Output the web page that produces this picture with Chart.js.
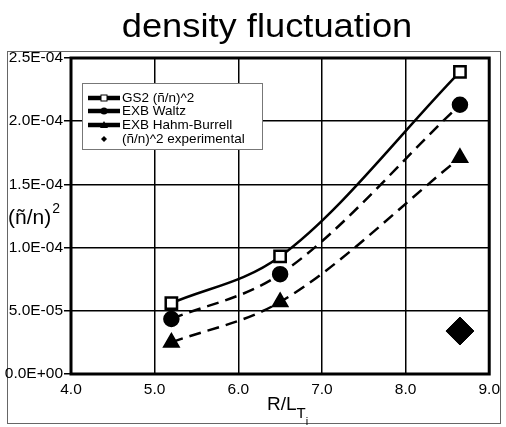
<!DOCTYPE html>
<html>
<head>
<meta charset="utf-8">
<script src="https://cdn.jsdelivr.net/npm/chart.js@4.4.0/dist/chart.umd.min.js"></script>
<style>
    body { margin: 0; background: #fff; }
    #densityChart { display: block; }
</style>
</head>
<body>
<canvas id="densityChart" width="506" height="427"></canvas>
<script>
// Density fluctuation chart data
var rltValues = [5.2, 6.5, 8.65];
var gs2Values = [5.6e-5, 9.3e-5, 2.39e-4];
var waltzValues = [4.35e-5, 7.9e-5, 2.13e-4];
var hahmValues = [2.5e-5, 5.7e-5, 1.71e-4];
var expX = [8.65];
var expValues = [3.4e-5];
var xTicks = [4, 5, 6, 7, 8, 9];
var yTicks = [0, 5e-5, 1e-4, 1.5e-4, 2e-4, 2.5e-4];

var FONT = '"Liberation Sans", Arial, sans-serif';

function toPoints(xs, ys) {
    return xs.map(function(x, i) { return { x: x, y: ys[i] }; });
}

// 2.5E-04 style labels
function sciLabel(v) {
    if (Math.abs(v) < 1e-12) return '0.0E+00';
    var exp = Math.floor(Math.log10(Math.abs(v)) + 1e-9);
    var mant = v / Math.pow(10, exp);
    var sign = exp < 0 ? '-' : '+';
    var e = Math.abs(exp);
    return mant.toFixed(1) + 'E' + sign + (e < 10 ? '0' + e : e);
}

// Frame, title, axis titles and legend box
var decorPlugin = {
    id: 'decor',
    beforeDraw: function(chart) {
        var ctx = chart.ctx;
        ctx.save();
        ctx.fillStyle = '#fff';
        ctx.fillRect(0, 0, chart.width, chart.height);
        ctx.strokeStyle = '#666';
        ctx.lineWidth = 1;
        ctx.strokeRect(7.5, 51.5, 493, 372);
        ctx.restore();
    },
    afterDraw: function(chart) {
        var ctx = chart.ctx;
        var area = chart.chartArea;
        ctx.save();

        // plot border
        ctx.strokeStyle = '#000';
        ctx.lineWidth = 3;
        ctx.strokeRect(area.left, area.top, area.right - area.left, area.bottom - area.top);

        // title (slightly wide, like the scan)
        ctx.fillStyle = '#000';
        ctx.textAlign = 'center';
        ctx.textBaseline = 'alphabetic';
        ctx.font = '33px ' + FONT;
        ctx.save();
        ctx.translate(267, 37);
        ctx.scale(1.1, 1);
        ctx.fillText('density fluctuation', 0, 0);
        ctx.restore();

        // y title
        ctx.textAlign = 'left';
        ctx.font = '21px ' + FONT;
        ctx.fillText('(\u00f1/n)', 8, 224);
        var w = ctx.measureText('(\u00f1/n)').width;
        ctx.font = '14px ' + FONT;
        ctx.fillText('2', 8 + w + 1, 213);

        // x title
        ctx.font = '19px ' + FONT;
        ctx.fillText('R/L', 267, 410);
        var w2 = ctx.measureText('R/L').width;
        ctx.font = '15px ' + FONT;
        ctx.fillText('T', 267 + w2, 418);
        var w3 = ctx.measureText('T').width;
        ctx.font = '11px ' + FONT;
        ctx.fillText('i', 267 + w2 + w3, 425);

        // legend
        var lx = 82, ly = 83;
        ctx.fillStyle = '#fff';
        ctx.fillRect(lx, ly, 180, 66);
        ctx.strokeStyle = '#777';
        ctx.lineWidth = 1;
        ctx.strokeRect(lx + 0.5, ly + 0.5, 180, 66);

        var rows = [98, 111, 125, 139];
        chart.data.datasets.forEach(function(ds, i) {
            var y = rows[i];
            ctx.strokeStyle = '#000';
            ctx.fillStyle = '#000';
            if (ds.showLine !== false) {
                ctx.lineWidth = 4.5;
                ctx.setLineDash([]);
                ctx.beginPath();
                ctx.moveTo(88, y);
                ctx.lineTo(120, y);
                ctx.stroke();
            }
            ctx.lineWidth = 1;
            var cx = 104;
            if (ds.pointStyle === 'rect') {
                ctx.fillStyle = '#fff';
                ctx.fillRect(cx - 3, y - 3, 6, 6);
                ctx.strokeRect(cx - 3, y - 3, 6, 6);
            } else if (ds.pointStyle === 'circle') {
                ctx.beginPath();
                ctx.arc(cx, y, 3.5, 0, Math.PI * 2);
                ctx.fill();
            } else if (ds.pointStyle === 'triangle') {
                ctx.beginPath();
                ctx.moveTo(cx, y - 4);
                ctx.lineTo(cx + 4, y + 3);
                ctx.lineTo(cx - 4, y + 3);
                ctx.closePath();
                ctx.fill();
            } else {
                ctx.beginPath();
                ctx.moveTo(cx, y - 3);
                ctx.lineTo(cx + 3, y);
                ctx.lineTo(cx, y + 3);
                ctx.lineTo(cx - 3, y);
                ctx.closePath();
                ctx.fill();
            }
            ctx.fillStyle = '#000';
            ctx.font = '13.5px ' + FONT;
            ctx.textBaseline = 'middle';
            ctx.fillText(ds.label, 122, y);
        });
        ctx.restore();
    }
};

var ctx = document.getElementById('densityChart').getContext('2d');
new Chart(ctx, {
    type: 'scatter',
    data: {
        datasets: [{
            label: 'GS2 (\u00f1/n)^2',
            data: toPoints(rltValues, gs2Values),
            showLine: true,
            borderColor: '#000',
            borderWidth: 2.5,
            cubicInterpolationMode: 'monotone',
            pointStyle: 'rect',
            pointRadius: 8,
            pointBackgroundColor: '#fff',
            pointBorderColor: '#000',
            pointBorderWidth: 2.5
        }, {
            label: 'EXB Waltz',
            data: toPoints(rltValues, waltzValues),
            showLine: true,
            borderColor: '#000',
            borderWidth: 2.5,
            borderDash: [12, 7],
            cubicInterpolationMode: 'monotone',
            pointStyle: 'circle',
            pointRadius: 7,
            pointBackgroundColor: '#000',
            pointBorderColor: '#000'
        }, {
            label: 'EXB Hahm-Burrell',
            data: toPoints(rltValues, hahmValues),
            showLine: true,
            borderColor: '#000',
            borderWidth: 2.5,
            borderDash: [12, 7],
            cubicInterpolationMode: 'monotone',
            pointStyle: 'triangle',
            pointRadius: 8,
            pointBackgroundColor: '#000',
            pointBorderColor: '#000'
        }, {
            label: '(\u00f1/n)^2 experimental',
            data: toPoints(expX, expValues),
            showLine: false,
            pointStyle: 'rectRot',
            pointRadius: 14,
            pointBackgroundColor: '#000',
            pointBorderColor: '#000'
        }]
    },
    options: {
        responsive: false,
        animation: false,
        layout: { padding: { left: 0, top: 58, right: 15, bottom: 0 } },
        plugins: {
            legend: { display: false },
            tooltip: { enabled: false }
        },
        scales: {
            x: {
                type: 'linear',
                min: 4,
                max: 9,
                afterBuildTicks: function(scale) {
                    scale.ticks = xTicks.map(function(v) { return { value: v }; });
                },
                afterFit: function(scale) { scale.height = 53; },
                grid: { color: '#000', lineWidth: 1.5, drawTicks: false },
                border: { display: false },
                ticks: {
                    color: '#000',
                    padding: 6,
                    font: { family: FONT, size: 15.5 },
                    maxRotation: 0,
                    callback: function(v) { return Number(v).toFixed(1); }
                }
            },
            y: {
                type: 'linear',
                min: 0,
                max: 2.5e-4,
                afterBuildTicks: function(scale) {
                    scale.ticks = yTicks.map(function(v) { return { value: v }; });
                },
                afterFit: function(scale) { scale.width = 71; },
                grid: { color: '#000', lineWidth: 1.5, tickLength: 7 },
                border: { display: false },
                ticks: {
                    color: '#000',
                    padding: 1,
                    font: { family: FONT, size: 15.5 },
                    callback: function(v) { return sciLabel(v); }
                }
            }
        }
    },
    plugins: [decorPlugin]
});
</script>
</body>
</html>
